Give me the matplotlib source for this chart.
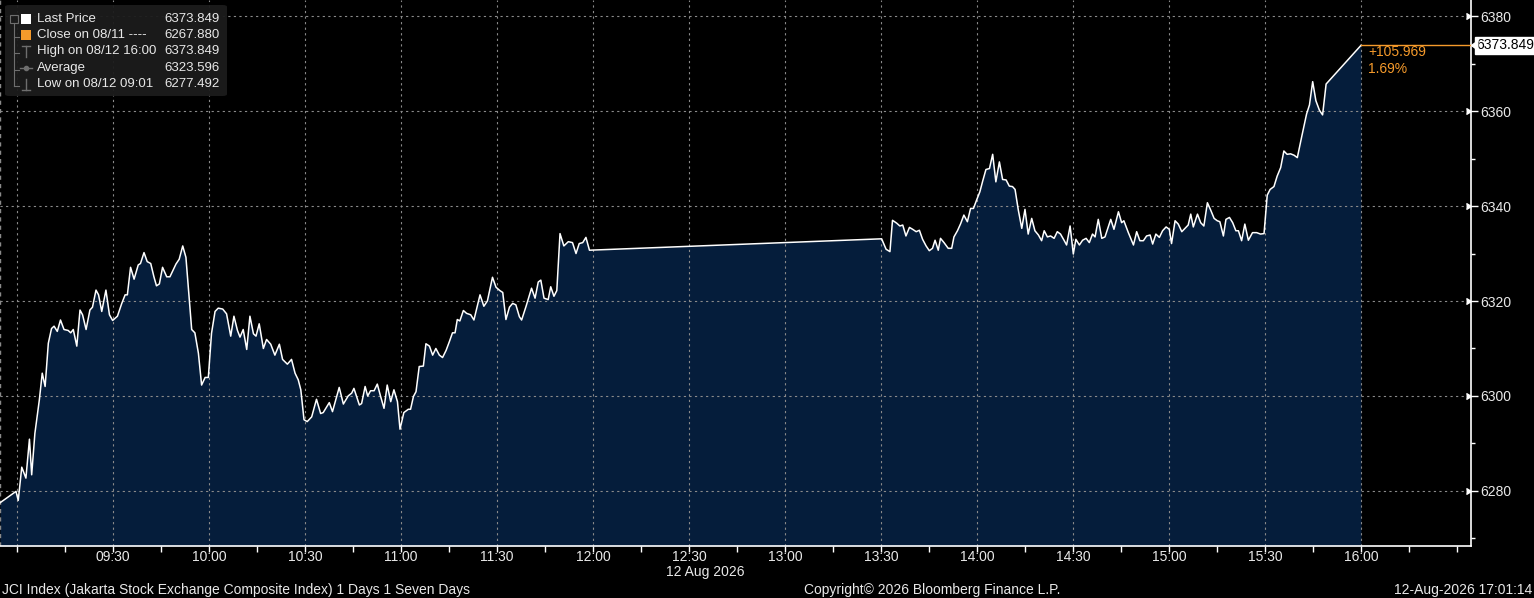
import matplotlib

matplotlib.use("Agg")
import matplotlib.pyplot as plt  # noqa: E402
import matplotlib.transforms as mtransforms  # noqa: E402
import numpy as np  # noqa: E402
from matplotlib.lines import Line2D  # noqa: E402
from matplotlib.patches import FancyBboxPatch, Rectangle  # noqa: E402

# ---- data: minutes after 09:00 and index level (JCI, 12 Aug 2026) ----
am_minutes = [
    -5.3, -0.3, 0.4, 1.5, 2.8, 3.9, 4.6, 5.6, 7.0, 7.9, 8.8, 9.8, 10.8, 11.6, 12.6,
    13.6, 14.7, 16.0, 16.8, 17.6, 18.7, 19.7, 20.5, 21.6, 22.8, 23.6, 24.7, 25.5,
    26.5, 27.8, 28.9, 29.9, 31.4, 32.7, 33.8, 34.5, 35.5, 36.6, 37.9, 38.6, 39.7,
    40.7, 41.8, 42.8, 43.6, 44.5, 45.5, 46.8, 47.8, 49.7, 50.7, 51.8, 52.8, 54.6,
    55.6, 56.7, 57.7, 58.8, 59.8, 60.8, 61.9, 62.9, 64.3, 65.5, 66.8, 67.8, 68.9,
    69.7, 70.7, 71.8, 72.8, 73.9, 74.7, 75.7, 77.0, 78.0, 79.3, 80.6, 82.0, 83.0,
    84.5, 85.8, 86.9, 87.9, 88.7, 89.7, 90.7, 92.1, 93.6, 94.9, 95.7, 97.6, 98.6,
    100.7, 102.0, 103.5, 104.6, 105.3, 107.0, 107.7, 108.8, 109.6, 110.5, 111.6,
    112.6, 113.6, 114.7, 115.7, 116.8, 117.8, 118.9, 119.7, 120.9, 122.3, 123.0,
    123.9, 124.7, 125.7, 127.0, 127.8, 128.9, 129.9, 130.9, 132.0, 133.0, 134.1,
    135.1, 136.1, 136.9, 137.6, 138.4, 139.5, 140.5, 141.8, 142.8, 144.7, 145.9,
    147.0, 148.6, 149.7, 150.9, 151.8, 152.8, 153.9, 154.9, 155.9, 157.0, 157.7,
    159.1, 160.8, 161.9, 162.9, 163.7, 164.7, 166.0, 166.8, 167.8, 168.7, 169.7,
    170.9, 172.3, 173.6, 174.7, 175.7, 176.8, 177.8, 178.9,
]
am_prices = [
    6277.5, 6279.9, 6278.0, 6285.0, 6282.7, 6290.9, 6283.4, 6292.1, 6299.2, 6304.8,
    6302.0, 6311.1, 6314.2, 6314.7, 6313.6, 6316.0, 6314.0, 6313.8, 6313.3, 6314.0,
    6310.5, 6318.1, 6317.1, 6314.0, 6318.1, 6318.7, 6322.3, 6321.3, 6317.8, 6322.3,
    6317.1, 6315.9, 6316.8, 6319.4, 6321.3, 6321.3, 6327.1, 6324.6, 6327.6, 6327.9,
    6330.2, 6328.3, 6327.9, 6325.1, 6323.2, 6323.6, 6327.1, 6325.1, 6325.1, 6327.8,
    6328.8, 6331.6, 6329.2, 6314.0, 6313.3, 6309.0, 6302.3, 6303.9, 6303.9, 6313.2,
    6317.8, 6318.5, 6318.3, 6317.3, 6312.6, 6316.8, 6313.8, 6312.4, 6314.0, 6309.8,
    6316.8, 6313.1, 6312.6, 6315.2, 6310.0, 6311.9, 6310.9, 6308.6, 6310.9, 6307.7,
    6306.7, 6307.7, 6304.8, 6303.4, 6301.3, 6295.0, 6294.6, 6295.6, 6299.3, 6296.3,
    6296.5, 6298.6, 6296.7, 6301.8, 6298.3, 6300.0, 6300.6, 6301.6, 6298.1, 6298.4,
    6302.0, 6300.0, 6301.1, 6301.1, 6302.5, 6300.0, 6297.4, 6302.3, 6298.8, 6301.3,
    6298.8, 6293.0, 6296.5, 6297.2, 6297.2, 6299.9, 6300.9, 6306.2, 6306.3, 6311.0,
    6310.5, 6308.6, 6310.0, 6308.6, 6308.1, 6309.6, 6311.4, 6313.3, 6313.3, 6316.1,
    6315.8, 6318.0, 6317.4, 6317.1, 6316.0, 6321.3, 6318.9, 6320.0, 6325.0, 6322.9,
    6322.2, 6321.8, 6316.1, 6318.7, 6319.5, 6319.2, 6316.7, 6316.0, 6318.9, 6322.7,
    6320.6, 6324.0, 6324.4, 6320.6, 6320.3, 6323.0, 6321.0, 6322.2, 6334.2, 6331.6,
    6332.5, 6332.3, 6330.0, 6332.1, 6332.3, 6333.4, 6330.7,
]
pm_minutes = [
    270.2, 271.6, 272.8, 273.6, 274.9, 275.9, 276.8, 277.8, 278.9, 279.9, 281.0,
    282.0, 283.0, 284.1, 285.1, 286.1, 286.9, 287.9, 288.6, 289.7, 291.0, 292.1,
    292.8, 293.9, 294.9, 295.9, 297.0, 298.0, 298.9, 299.9, 300.9, 301.8, 302.8,
    303.9, 304.9, 305.9, 307.0, 308.0, 309.1, 310.1, 311.1, 311.9, 312.9, 314.0,
    315.0, 316.0, 317.1, 318.1, 319.2, 320.2, 321.0, 322.0, 323.0, 324.1, 325.1,
    326.1, 327.2, 328.0, 329.1, 330.1, 330.9, 332.0, 333.0, 334.1, 335.1, 336.1,
    336.9, 337.9, 339.0, 340.0, 341.8, 342.8, 344.2, 345.2, 345.9, 347.3, 348.9,
    349.9, 350.9, 352.0, 353.0, 354.1, 354.9, 355.9, 357.0, 358.0, 359.1, 360.1,
    360.8, 361.9, 362.9, 364.0, 365.0, 366.0, 366.8, 367.6, 368.9, 369.9, 370.9,
    372.0, 373.0, 374.1, 375.1, 375.9, 377.0, 377.8, 378.9, 379.9, 380.9, 381.7,
    382.7, 383.7, 384.8, 386.1, 387.4, 388.6, 389.7, 390.7, 391.6, 392.8, 393.8,
    394.9, 395.9, 396.9, 398.0, 399.1, 400.1, 401.5, 403.0, 403.9, 404.9, 405.9,
    407.0, 408.0, 409.1, 420.0,
]
pm_prices = [
    6333.1, 6330.9, 6330.4, 6337.0, 6336.4, 6335.8, 6336.0, 6333.7, 6335.5, 6335.1,
    6334.6, 6334.9, 6333.0, 6331.6, 6330.6, 6331.1, 6332.8, 6330.7, 6333.2, 6332.3,
    6331.1, 6331.1, 6333.5, 6334.8, 6336.3, 6338.1, 6336.7, 6339.5, 6339.5, 6341.3,
    6343.0, 6345.3, 6347.7, 6347.9, 6350.9, 6345.1, 6349.3, 6345.6, 6345.5, 6344.2,
    6344.1, 6343.5, 6339.2, 6335.3, 6339.3, 6334.1, 6337.4, 6334.8, 6333.9, 6332.7,
    6334.8, 6333.5, 6333.7, 6333.2, 6334.6, 6334.1, 6332.8, 6331.8, 6335.8, 6329.9,
    6333.0, 6331.8, 6332.8, 6333.2, 6332.3, 6334.1, 6333.5, 6337.2, 6333.2, 6333.5,
    6337.2, 6335.1, 6338.8, 6336.5, 6336.9, 6334.4, 6331.8, 6334.6, 6332.7, 6332.7,
    6333.7, 6333.9, 6332.0, 6334.1, 6333.4, 6334.8, 6335.6, 6335.1, 6332.1, 6336.9,
    6336.2, 6334.6, 6335.3, 6336.0, 6338.3, 6335.6, 6338.3, 6336.5, 6335.8, 6340.7,
    6339.2, 6337.4, 6336.9, 6336.7, 6333.7, 6337.2, 6337.6, 6336.5, 6334.8, 6334.8,
    6332.7, 6336.2, 6332.8, 6334.4, 6334.4, 6334.1, 6334.2, 6342.3, 6343.5, 6344.1,
    6346.3, 6348.1, 6351.6, 6350.9, 6351.0, 6350.7, 6350.2, 6354.7, 6359.4, 6361.3,
    6366.2, 6362.2, 6360.2, 6359.2, 6365.7, 6373.849,
]

last_price = 6373.849
prev_close = 6267.880
day_high = 6373.849
day_avg = 6323.596
day_low = 6277.492

x_ticks = [30, 60, 90, 120, 150, 180, 210, 240, 270, 300, 330, 360, 390, 420]
x_labels = ["09:30", "10:00", "10:30", "11:00", "11:30", "12:00", "12:30",
            "13:00", "13:30", "14:00", "14:30", "15:00", "15:30", "16:00"]
y_ticks = [6280, 6300, 6320, 6340, 6360, 6380]

W, H = 1534, 598
BG = "black"
FILL = "#051d3b"
ORANGE = "#f59a2b"
GRID = "#8a8a8a"
TXT = "#e8e8e8"

plt.rcParams["font.family"] = ["Liberation Sans", "DejaVu Sans"]

minutes = np.array(am_minutes + pm_minutes)
prices = np.array(am_prices + pm_prices)

fig = plt.figure(figsize=(W / 100, H / 100), dpi=100, facecolor=BG)
ax = fig.add_axes([0, 52 / H, 1471 / W, 546 / H])
ax.set_facecolor(BG)

x_min = minutes[0]
x_max = 420 + 110 * 30 / 96
y_min, y_max = 6268.4, 6383.4
ax.set_xlim(x_min, x_max)
ax.set_ylim(y_min, y_max)

ax.fill_between(minutes, prices, y_min, color=FILL, lw=0, zorder=1)
ax.plot(minutes, prices, color="white", lw=1.1, zorder=3)

# grid
for xv in [0] + x_ticks:
    ax.axvline(xv, color=GRID, lw=0.8, ls=(0, (2, 3)), zorder=2)
for yv in y_ticks:
    ax.axhline(yv, color=GRID, lw=0.8, ls=(0, (2, 3)), zorder=2)

# last price marker line and change text
ax.plot([420, x_max], [last_price, last_price], color=ORANGE, lw=1.0, zorder=4,
        clip_on=False)
chg = last_price - prev_close
ax.annotate(f"+{chg:.3f}\n{chg / prev_close * 100:.2f}%", xy=(420, last_price),
            xytext=(5, 0), textcoords="offset points", va="top", ha="left",
            color=ORANGE, fontsize=10, linespacing=1.2)

# spines / ticks
for side in ["top", "left"]:
    ax.spines[side].set_visible(False)
for side in ["bottom", "right"]:
    ax.spines[side].set_color("white")
    ax.spines[side].set_linewidth(1.2)
ax.axvline(x_min, color=GRID, lw=1, ls=(0, (3, 3)), zorder=2)

ax.set_xticks(np.arange(0, x_max, 15), minor=True)
ax.set_xticks(x_ticks, x_labels)
ax.tick_params(axis="x", which="both", colors="white", length=4, width=1,
               labelsize=10, labelcolor=TXT, pad=-1)
ax.yaxis.tick_right()
ax.set_yticks(y_ticks)
ax.set_yticks(np.arange(6270, 6390, 10), minor=True)
ax.tick_params(axis="y", which="major", colors="white", length=5, width=1,
               labelsize=10, labelcolor=TXT, pad=2)
ax.tick_params(axis="y", which="minor", colors="white", length=3, width=1)
trans_r = mtransforms.blended_transform_factory(ax.transAxes, ax.transData)
ax.plot(np.full(len(y_ticks), 1.0), y_ticks, ls="none", marker=5, ms=4.5,
        color="white", transform=trans_r, clip_on=False, zorder=5)

# last price tag
ax.plot([1.0], [last_price], ls="none", marker=4, ms=7, color="white",
        transform=trans_r, clip_on=False, zorder=5)
ax.annotate(f"{last_price:.3f}", xy=(1.0, last_price), xycoords=trans_r,
            xytext=(4, 0), textcoords="offset points", va="center", ha="left",
            color="black", fontsize=10,
            bbox=dict(boxstyle="square,pad=0.12", fc="white", ec="white"))

# date under the axis
fig.text(705 / W, 1 - 572 / H, "12 Aug 2026", ha="center", va="center",
         color=TXT, fontsize=10)


# ---- legend box (pixel positions) ----
def fx(px):
    return px / W


def fy(py):
    return 1 - py / H


fig.add_artist(FancyBboxPatch((fx(5), fy(96)), fx(222), 91 / H,
                              boxstyle="round,pad=0,rounding_size=0.003",
                              transform=fig.transFigure, fc="#1c1c1c",
                              ec="none", alpha=0.95))
rows_y = [19, 35, 51, 68, 84]
legend_labels = ["Last Price", "Close on 08/11 ----", "High on 08/12 16:00",
                 "Average", "Low on 08/12 09:01"]
legend_values = [last_price, prev_close, day_high, day_avg, day_low]
for ry, lab, val in zip(rows_y, legend_labels, legend_values):
    fig.text(fx(37), fy(ry), lab, color=TXT, fontsize=9.5, va="center")
    fig.text(fx(220), fy(ry), f"{val:.3f}", color=TXT, fontsize=9.5,
             va="center", ha="right")

tree = "#6e6e6e"
fig.add_artist(Line2D([fx(14), fx(14)], [fy(23), fy(86)], color=tree, lw=0.8))
for ry in rows_y[1:]:
    fig.add_artist(Line2D([fx(14), fx(19)], [fy(ry + 2), fy(ry + 2)],
                          color=tree, lw=0.8))
fig.add_artist(Rectangle((fx(10), fy(23)), fx(8), 8 / H, fill=False, ec=tree,
                         lw=0.8, transform=fig.transFigure))
fig.add_artist(Rectangle((fx(21), fy(24)), fx(10), 10 / H, fc="white",
                         ec="none", transform=fig.transFigure))
fig.add_artist(Rectangle((fx(21), fy(40)), fx(10), 10 / H, fc=ORANGE,
                         ec="none", transform=fig.transFigure))
# high / average / low icons
fig.add_artist(Line2D([fx(26), fx(26)], [fy(46), fy(57)], color=tree, lw=1))
fig.add_artist(Line2D([fx(22), fx(30)], [fy(46), fy(46)], color=tree, lw=1))
fig.add_artist(Line2D([fx(20), fx(32)], [fy(68), fy(68)], color=tree, lw=1))
fig.add_artist(Line2D([fx(26)], [fy(68)], color=tree, marker="o", ms=3))
fig.add_artist(Line2D([fx(26), fx(26)], [fy(79), fy(90)], color=tree, lw=1))
fig.add_artist(Line2D([fx(22), fx(30)], [fy(90), fy(90)], color=tree, lw=1))

# footer
fig.text(fx(2), fy(590), "JCI Index (Jakarta Stock Exchange Composite Index) "
         "1 Days 1 Seven Days", color=TXT, fontsize=10, va="center")
fig.text(fx(804), fy(590), "Copyright\u00a9 2026 Bloomberg Finance L.P.",
         color=TXT, fontsize=10, va="center")
fig.text(fx(1532), fy(590), "12-Aug-2026 17:01:14", color=TXT, fontsize=10,
         va="center", ha="right")

fig.savefig("out.png", dpi=100, facecolor=BG)
